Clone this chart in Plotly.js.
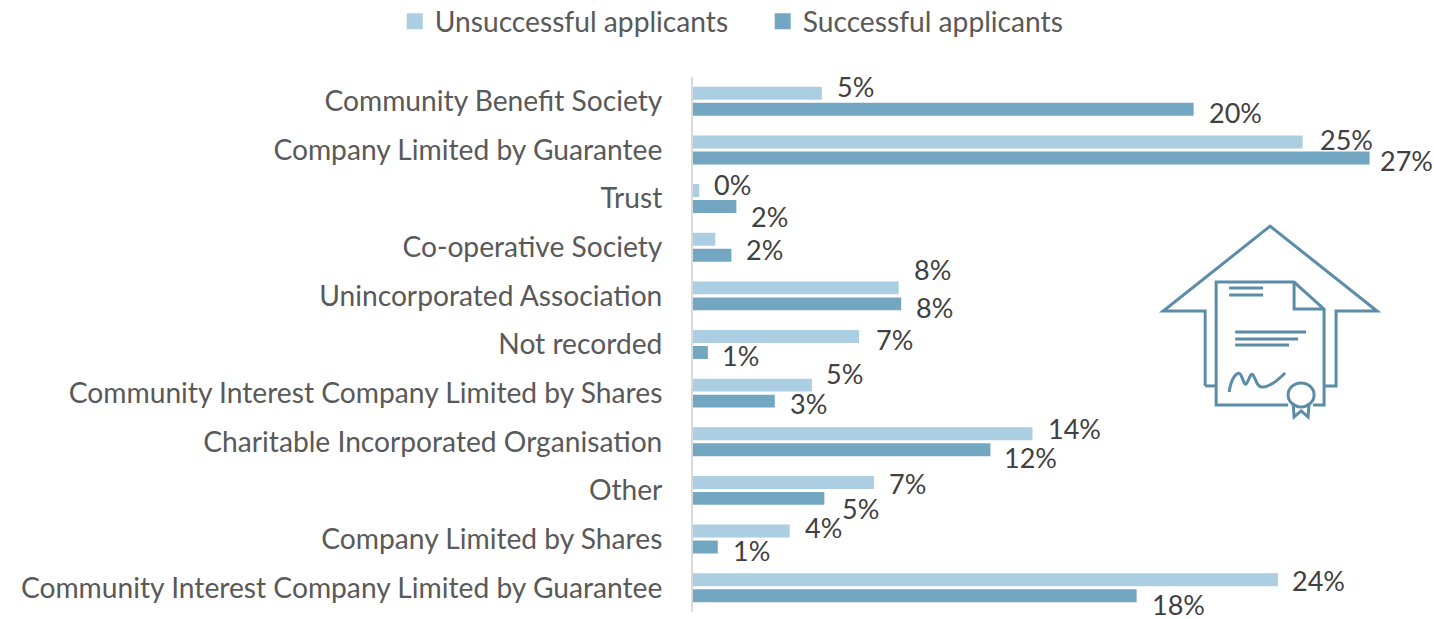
<!DOCTYPE html>
<html>
<head>
<meta charset="utf-8">
<script src="https://cdn.plot.ly/plotly-3.0.1.min.js"></script>
<style>html,body{margin:0;padding:0;background:#fff}</style>
</head>
<body>
<div id="chart" style="width:1434px;height:619px"></div>
<script>
const categories = ["Community Benefit Society","Company Limited by Guarantee","Trust","Co-operative Society","Unincorporated Association","Not recorded","Community Interest Company Limited by Shares","Charitable Incorporated Organisation","Other","Company Limited by Shares","Community Interest Company Limited by Guarantee"];
const unsuccessful = [5.2,24.6,0.25,0.9,8.3,6.7,4.8,13.7,7.3,3.9,23.6];
const successful = [20.2,27.3,1.75,1.55,8.4,0.6,3.3,12.0,5.3,1.0,17.9];
const unsuccessfulLabels = ["5%","25%","0%","","8%","7%","5%","14%","7%","4%","24%"];
const successfulLabels = ["20%","27%","2%","2%","8%","1%","3%","12%","5%","1%","18%"];
// label nudges from the bar end / category centre, as the original chart placed them by hand
const unsuccessfulNudgeX = [13,15,13,0,13,15,12,13,13,13,12];
const unsuccessfulNudgeY = [15,11,15,0,27,6,20,14,7,12,8];
const successfulNudgeX = [13,8,13,13,13,12,13,12,16,13,13];
const successfulNudgeY = [-11,-10,-17,-2,-11,-10,-10,-15,-18,-11,-16];

const W = 1434, H = 619, M = {l:692.5, r:0, t:76.6, b:6.6, autoexpand:false};
const px = x => (x - M.l) / (W - M.l - M.r);
const py = y => 1 - (y - M.t) / (H - M.t - M.b);
const iconColor = "#5b8ca8";
const iconPaths = [
  [["M",1205,386],["L",1205,311],["L",1163,311],["L",1270,226],["L",1377,311],["L",1336,311],["L",1336,386],["L",1325,386]],
  [["M",1216,386],["L",1205,386]],
  [["M",1288,405],["L",1216,405],["L",1216,282],["L",1294,282],["L",1324,309],["L",1324,405],["L",1313,405]],
  [["M",1294,282],["L",1294,309],["L",1324,309]],
  [["M",1229,288],["L",1263,288]],
  [["M",1229,295],["L",1263,295]],
  [["M",1235,332],["L",1306,332]],
  [["M",1235,339],["L",1298,339]],
  [["M",1235,345],["L",1289,345]],
  [["M",1293,403],["L",1294,417],["L",1301,411],["L",1308,417],["L",1309,403]]
];
const toPath = segs => segs.map(s => s[0] + px(s[1]) + "," + py(s[2])).join(" ");
const shapes = iconPaths.map(p => ({type:"path", xref:"paper", yref:"paper", path:toPath(p), line:{color:iconColor,width:3}}));
const sig = "M"+px(1229)+","+py(392)+" C"+px(1231)+","+py(378)+" "+px(1237)+","+py(371)+" "+px(1240)+","+py(374)+
  " C"+px(1243)+","+py(378)+" "+px(1244)+","+py(386)+" "+px(1246)+","+py(384)+
  " C"+px(1249)+","+py(381)+" "+px(1250)+","+py(372)+" "+px(1253)+","+py(375)+
  " C"+px(1256)+","+py(380)+" "+px(1257)+","+py(388)+" "+px(1263)+","+py(387)+
  " C"+px(1270)+","+py(387)+" "+px(1279)+","+py(379)+" "+px(1285)+","+py(373);
shapes.push({type:"path", xref:"paper", yref:"paper", path:sig, line:{color:iconColor,width:3}});
shapes.push({type:"circle", xref:"paper", yref:"paper", x0:px(1288), x1:px(1314), y0:py(383), y1:py(407), fillcolor:"rgba(255,255,255,0)", line:{color:iconColor,width:3}});

const annotations = [];
const labelBox = {xanchor:"left", yanchor:"middle", showarrow:false, height:26, valign:"middle"};
categories.forEach((c,i) => {
  if (unsuccessfulLabels[i]) annotations.push({...labelBox, x:unsuccessful[i], y:c, text:unsuccessfulLabels[i], xshift:unsuccessfulNudgeX[i], yshift:unsuccessfulNudgeY[i]});
  annotations.push({...labelBox, x:successful[i], y:c, text:successfulLabels[i], xshift:successfulNudgeX[i], yshift:successfulNudgeY[i]});
});

const FONT = "Lato, 'Open Sans', sans-serif";
const LIGHT = "#abcee3", DARK = "#73a6c1";
Plotly.newPlot("chart", [
  {type:"bar", orientation:"h", name:"Unsuccessful applicants", x:unsuccessful, y:categories, marker:{color:LIGHT}, hoverinfo:"x+y", showlegend:false},
  {type:"bar", orientation:"h", name:"Successful applicants", x:successful, y:categories, marker:{color:DARK}, hoverinfo:"x+y", showlegend:false},
  {type:"scatter", mode:"markers", name:"Unsuccessful applicants", x:[null], y:[null], marker:{symbol:"square", size:16, color:LIGHT}, showlegend:true, hoverinfo:"skip"},
  {type:"scatter", mode:"markers", name:"Successful applicants", x:[null], y:[null], marker:{symbol:"square", size:16, color:DARK}, showlegend:true, hoverinfo:"skip"}
], {
  width:W, height:H, margin:M, paper_bgcolor:"#fff", plot_bgcolor:"#fff",
  barmode:"group", bargap:0.343, bargroupgap:0.19,
  font:{family:FONT, size:27, color:"#404040"},
  xaxis:{range:[0,(W-M.l)/24.8], visible:false, fixedrange:true},
  yaxis:{type:"category", range:[10.5,-0.5], categoryorder:"array", categoryarray:categories, showline:true, linecolor:"#d9d9d9", linewidth:2, showgrid:false, ticks:"", ticklabelstandoff:23, tickfont:{family:FONT, size:28.2, color:"#595959"}, fixedrange:true},
  legend:{orientation:"h", x:px(394), xanchor:"left", y:py(-4), yanchor:"top", traceorder:"normal", entrywidth:323, entrywidthmode:"pixels", font:{family:FONT, size:28.2, color:"#595959"}, itemclick:false, itemdoubleclick:false},
  shapes, annotations, showlegend:true
}, {displayModeBar:false, responsive:false});
</script>
</body>
</html>
